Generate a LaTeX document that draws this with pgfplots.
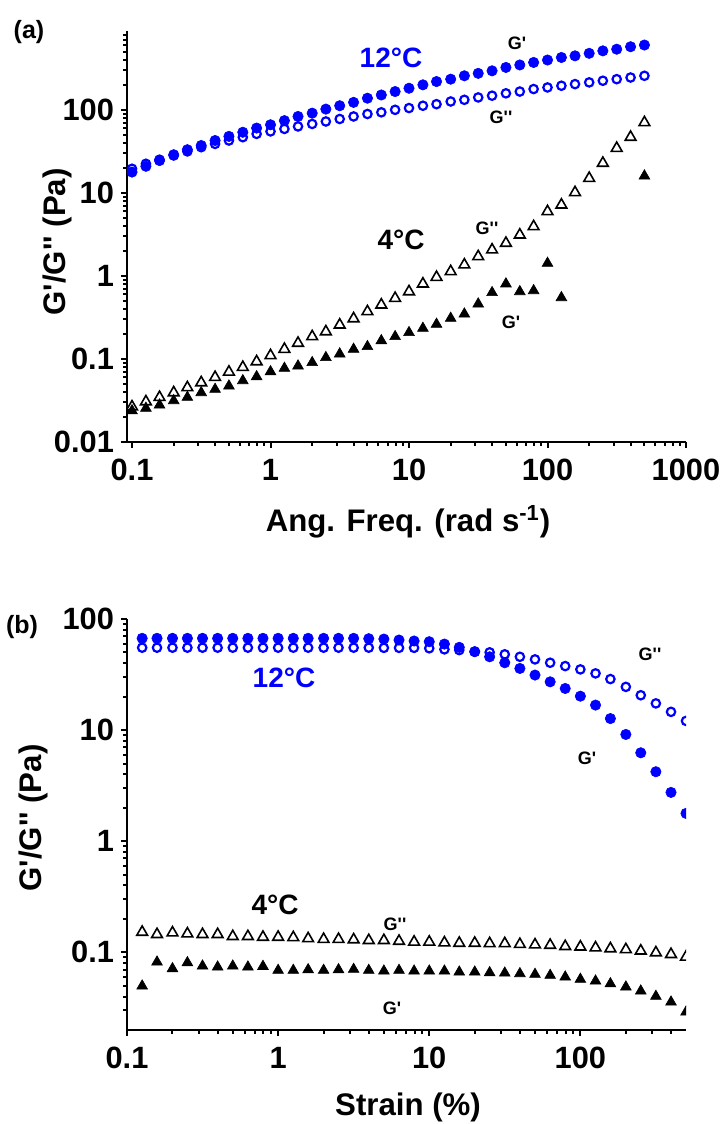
\documentclass[border=0pt]{standalone}
\usepackage{fontspec}
\setmainfont{Liberation Sans}[Ligatures=TeXOff]
\usepackage{pgfplots}
\usepackage{pgfplotstable}
\pgfplotsset{compat=1.18}
\definecolor{gblue}{RGB}{0,0,255}

% frequency sweep, 12 and 4 C
\pgfplotstableread{
x      gp12  gpp12  gp4     gpp4
0.1    17.8  19.5   0.0238  0.0266
0.126  20.9  22.4   0.0255  0.0306
0.158  24.5  25.1   0.0279  0.0345
0.2    28.8  28.2   0.0315  0.0393
0.251  33.1  31.6   0.0345  0.0452
0.316  37.2  35.5   0.0393  0.0519
0.398  42.7  38.9   0.0431  0.0601
0.501  47.9  42.7   0.0473  0.0697
0.631  53.7  46.8   0.0548  0.0794
0.794  60.3  51.3   0.0612  0.0929
1      66.1  55.0   0.0703  0.110
1.26   74.1  58.9   0.0773  0.131
1.58   83.2  63.1   0.0824  0.155
2      91.2  67.6   0.0904  0.186
2.51   102   72.4   0.104   0.213
3.16   112   77.6   0.115   0.257
3.98   123   83.2   0.131   0.306
5.01   138   89.1   0.141   0.372
6.31   151   93.3   0.166   0.448
7.94   166   100    0.186   0.538
10     182   105    0.208   0.647
12.6   200   112    0.234   0.802
15.8   219   117    0.262   0.964
20     234   126    0.309   1.13
25.1   257   132    0.348   1.36
31.6   275   141    0.460   1.71
39.8   295   148    0.630   2.06
50.1   324   158    0.802   2.48
63.1   347   166    0.647   3.12
79.4   372   178    0.665   3.93
100    398   186    1.42    5.96
126    427   195    0.548   7.16
158    447   204    nan     10.1
200    479   214    nan     15.0
251    513   224    nan     22.8
316    537   234    nan     34.5
398    575   245    nan     46.9
501    603   257    16.0    70.3
}\freqdata

% strain sweep, 12 and 4 C
\pgfplotstableread{
x      gp12  gpp12  gp4     gpp4
0.126  67.0  55.2   0.0498  0.152
0.158  67.0  55.2   0.0818  0.145
0.2    67.0  55.2   0.0713  0.150
0.251  67.0  55.2   0.0807  0.147
0.316  67.0  55.2   0.0753  0.145
0.398  67.0  55.2   0.0738  0.145
0.501  67.0  55.2   0.0753  0.139
0.631  67.0  55.2   0.0738  0.139
0.794  67.0  55.2   0.0748  0.137
1      67.0  55.2   0.0689  0.137
1.26   67.0  55.2   0.0689  0.136
1.58   67.0  55.2   0.0698  0.133
2      67.0  55.2   0.0689  0.131
2.51   67.0  55.2   0.0698  0.131
3.16   67.0  55.2   0.0703  0.130
3.98   66.5  55.2   0.0689  0.128
5.01   66.0  55.0   0.0679  0.128
6.31   64.7  55.0   0.0689  0.126
7.94   63.4  55.0   0.0679  0.124
10     62.5  54.5   0.0679  0.124
12.6   59.5  53.3   0.0679  0.122
15.8   55.6  52.5   0.0665  0.121
20     50.8  50.8   0.0665  0.121
25.1   45.7  50.1   0.0656  0.120
31.6   40.4  48.1   0.0651  0.120
39.8   35.9  45.7   0.0643  0.118
50.1   31.3  43.3   0.0634  0.117
63.1   27.2  40.4   0.0621  0.116
79.4   23.7  37.7   0.0600  0.113
100    20.2  35.2   0.0572  0.112
126    16.8  32.4   0.0552  0.110
158    12.7  28.8   0.0522  0.108
200    9.14  24.5   0.0488  0.106
251    6.25  20.6   0.0449  0.103
316    4.22  17.4   0.0402  0.0993
398    2.75  14.6   0.0357  0.0959
500    1.78  12.1   0.0290  0.0908
}\straindata

\newcommand\tickfont{\fontsize{15.4}{16}\selectfont\bfseries}
\newcommand\axfont{\fontsize{15.6}{17}\selectfont\bfseries}
\newcommand\tempfont{\fontsize{14}{15}\selectfont\bfseries}
\newcommand\gfont{\fontsize{9}{10}\selectfont\bfseries}

\begin{document}
\begin{tikzpicture}
\useasboundingbox (0,0) rectangle (363.5pt,562pt);

% (a) frequency sweep
\begin{axis}[
    at={(63.5pt,341pt)}, anchor=south west,
    xmode=log, ymode=log,
    scale only axis, width=279.5pt, height=205.5pt,
    axis x line=bottom, axis y line=left,
    axis line style={-, line width=1.3pt},
    tick align=outside,
    major tick length=3pt, minor tick length=1.8pt,
    every tick/.append style={black, line width=1pt},
    tick label style={font=\tickfont},
    xticklabel style={yshift=-2pt},
    clip marker paths=true,
    xmin=0.092, xmax=1000, ymin=0.01, ymax=890,
    xtick={0.1,1,10,100,1000}, xticklabels={0.1,1,10,100,1000},
    minor xtick={0.2,0.3,0.4,0.5,0.6,0.7,0.8,0.9,2,3,4,5,6,7,8,9,20,30,40,50,60,70,80,90,200,300,400,500,600,700,800,900},
    ytick={0.01,0.1,1,10,100}, yticklabels={0.01,0.1,1,10,100},
    minor ytick={0.02,0.03,0.04,0.05,0.06,0.07,0.08,0.09,0.2,0.3,0.4,0.5,0.6,0.7,0.8,0.9,2,3,4,5,6,7,8,9,20,30,40,50,60,70,80,90,200,300,400,500,600,700,800}]
\addplot[only marks, mark=o, mark size=2.1pt, color=gblue, mark options={line width=1.1pt}] table[x=x, y=gpp12] {\freqdata};
\addplot[only marks, mark=*, mark size=2.6pt, color=gblue, mark options={fill=gblue, line width=0.3pt}] table[x=x, y=gp12] {\freqdata};
\addplot[only marks, mark=triangle, mark size=3.1pt, color=black, mark options={line width=0.8pt}] table[x=x, y=gpp4] {\freqdata};
\addplot[only marks, mark=triangle*, mark size=3.1pt, color=black, mark options={fill=black, line width=0.3pt}] table[x=x, y=gp4] {\freqdata};
\end{axis}

% (b) strain sweep
\begin{axis}[
    at={(63.5pt,47pt)}, anchor=south west,
    xmode=log, ymode=log,
    scale only axis, width=279.5pt, height=205.5pt,
    axis x line=bottom, axis y line=left,
    axis line style={-, line width=1.3pt},
    tick align=outside,
    major tick length=3pt, minor tick length=1.8pt,
    every tick/.append style={black, line width=1pt},
    tick label style={font=\tickfont},
    xticklabel style={yshift=-2pt},
    clip marker paths=true,
    xmin=0.1, xmax=500, ymin=0.02, ymax=100,
    xtick={0.1,1,10,100}, xticklabels={0.1,1,10,100},
    minor xtick={0.2,0.3,0.4,0.5,0.6,0.7,0.8,0.9,2,3,4,5,6,7,8,9,20,30,40,50,60,70,80,90,200,300,400},
    ytick={0.1,1,10,100}, yticklabels={0.1,1,10,100},
    minor ytick={0.03,0.04,0.05,0.06,0.07,0.08,0.09,0.2,0.3,0.4,0.5,0.6,0.7,0.8,0.9,2,3,4,5,6,7,8,9,20,30,40,50,60,70,80,90}]
\addplot[only marks, mark=o, mark size=2.1pt, color=gblue, mark options={line width=1.1pt}] table[x=x, y=gpp12] {\straindata};
\addplot[only marks, mark=*, mark size=2.6pt, color=gblue, mark options={fill=gblue, line width=0.3pt}] table[x=x, y=gp12] {\straindata};
\addplot[only marks, mark=triangle, mark size=3.1pt, color=black, mark options={line width=0.8pt}] table[x=x, y=gpp4] {\straindata};
\addplot[only marks, mark=triangle*, mark size=3.1pt, color=black, mark options={fill=black, line width=0.3pt}] table[x=x, y=gp4] {\straindata};
\end{axis}

% labels, placed in pixel units of the reference (origin top left)
\begin{scope}[x=0.5pt, y=-0.5pt, yshift=562pt]
\node[font=\fontsize{12.5}{13}\selectfont\bfseries] at (29,32) {(a)};
\node[font=\fontsize{12.5}{13}\selectfont\bfseries] at (22,627) {(b)};
\node[rotate=90, font=\axfont] at (57,242) {G'/G'' (Pa)};
\node[rotate=90, font=\axfont] at (33,818) {G'/G'' (Pa)};
\node[font=\axfont] at (408,522) {Ang. Freq. (rad s\textsuperscript{-1})};
\node[font=\axfont] at (408,1107) {Strain (\%)};
% panel a
\node[font=\tempfont, text=gblue] at (391,58) {12°C};
\node[font=\gfont] at (517,43) {G'};
\node[font=\gfont] at (501,117) {G''};
\node[font=\tempfont] at (401,240) {4°C};
\node[font=\gfont] at (487,228) {G''};
\node[font=\gfont] at (511,322) {G'};
% panel b
\node[font=\tempfont, text=gblue] at (284,678) {12°C};
\node[font=\gfont] at (650,654) {G''};
\node[font=\gfont] at (587,758) {G'};
\node[font=\tempfont] at (275,905) {4°C};
\node[font=\gfont] at (395,924) {G''};
\node[font=\gfont] at (392,1008) {G'};
\end{scope}
\end{tikzpicture}
\end{document}
